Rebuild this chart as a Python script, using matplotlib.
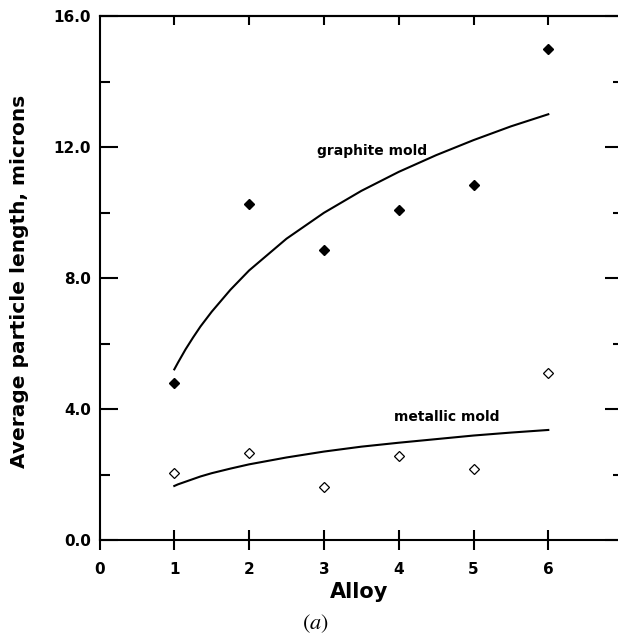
import matplotlib
matplotlib.use("Agg")
import matplotlib.pyplot as plt
from matplotlib.ticker import MultipleLocator, FixedLocator

plt.rcParams["font.family"] = "DejaVu Sans"
plt.rcParams["mathtext.fontset"] = "stix"

# measured particle lengths per alloy
alloy = [1, 2, 3, 4, 5, 6]
graphite_len = [4.79, 10.25, 8.85, 10.08, 10.83, 15.0]
metallic_len = [2.04, 2.65, 1.63, 2.57, 2.16, 5.11]

# fitted trend curves
fit_x = [1, 1.05, 1.1, 1.15, 1.25, 1.35, 1.5, 1.75, 2, 2.5, 3, 3.5, 4, 4.5, 5, 5.5, 6]
graphite_fit = [5.21, 5.42, 5.62, 5.82, 6.18, 6.52, 6.97, 7.64, 8.23, 9.20, 9.99,
                10.66, 11.24, 11.75, 12.21, 12.63, 13.0]
metallic_fit = [1.65, 1.70, 1.74, 1.78, 1.86, 1.94, 2.04, 2.18, 2.31, 2.52, 2.70,
                2.85, 2.97, 3.08, 3.19, 3.28, 3.36]

x_ticks = [0, 1, 2, 3, 4, 5, 6]
y_ticks = [0, 4, 8, 12, 16]
y_ticklabels = ["0.0", "4.0", "8.0", "12.0", "16.0"]

W, H = 618, 634
fig = plt.figure(figsize=(W / 100, H / 100), dpi=100)
ax = fig.add_axes([99.5 / W, (H - 540) / H, 523.6 / W, 524 / H])

ax.plot(fit_x, graphite_fit, color="black", lw=1.5, solid_joinstyle="round")
ax.plot(fit_x, metallic_fit, color="black", lw=1.5, solid_joinstyle="round")
ax.plot(alloy, graphite_len, ls="none", marker="D", ms=5, color="black")
ax.plot(alloy, metallic_len, ls="none", marker="D", ms=5.2,
        mfc="white", mec="black", mew=0.9)

ax.text(3.643, 11.76, "graphite mold", fontsize=10, fontweight="bold",
        ha="center", va="baseline")
ax.text(4.646, 3.63, "metallic mold", fontsize=10, fontweight="bold",
        ha="center", va="baseline")

ax.set_xlim(0, 7)
ax.set_ylim(0, 16)

for s in ax.spines.values():
    s.set_linewidth(1.5)

ax.xaxis.set_major_locator(FixedLocator(x_ticks))
ax.set_xticklabels([str(v) for v in x_ticks])
ax.set_yticks(y_ticks)
ax.set_yticklabels(y_ticklabels)
ax.yaxis.set_minor_locator(MultipleLocator(2))

ax.tick_params(axis="x", which="major", direction="inout", length=13.7, width=1.5,
               pad=9, labelsize=11, top=False)
ax.tick_params(axis="y", which="major", direction="in", length=13, width=1.5,
               pad=6, labelsize=11, right=True)
ax.tick_params(axis="y", which="minor", direction="in", length=7, width=1.5, right=True)
for lab in ax.get_xticklabels() + ax.get_yticklabels():
    lab.set_fontweight("bold")

# top ticks point inward and are shorter than the bottom ones
top = ax.secondary_xaxis("top")
top.set_xticks(alloy)
top.tick_params(direction="in", length=6.5, width=1.5, labeltop=False)
top.spines["top"].set_linewidth(1.5)

fig.text(359 / W, 1 - 598 / H, "Alloy", fontsize=15, fontweight="bold",
         ha="center", va="baseline")
fig.text(20 / W, 1 - 281 / H, "Average particle length, microns", fontsize=14.5,
         fontweight="bold", rotation=90, ha="center", va="center")
fig.text(315 / W, 1 - 629 / H, r"$(\mathit{a})$", fontsize=16,
         ha="center", va="baseline")

fig.savefig("out.png", dpi=100)
